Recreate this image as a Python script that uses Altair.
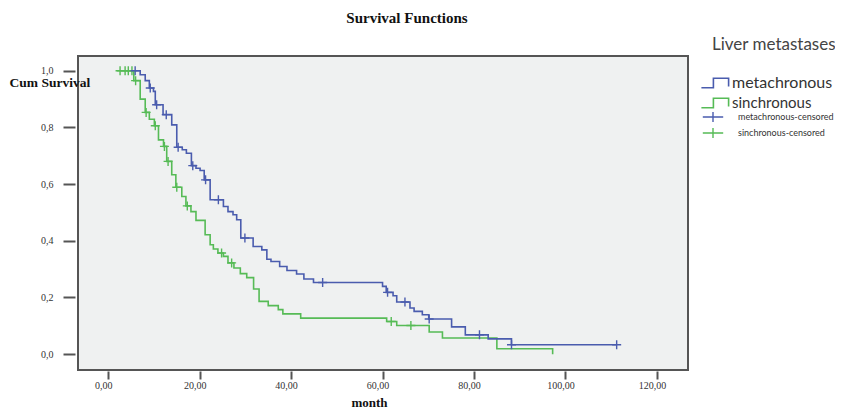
import altair as alt
import pandas as pd

# ---- data (time in months, cumulative survival) ----
meta_t = [5.9, 7.0, 8.1, 9.0, 9.9, 10.3, 12.0, 13.9, 15.0, 16.2, 17.1, 18.2, 19.2, 20.1, 21.0, 22.3,
          25.2, 26.2, 27.3, 28.1, 29.0, 31.7, 33.6, 34.7, 35.6, 37.5, 39.1, 41.2, 42.8, 44.9,
          60.0, 60.8, 62.3, 63.1, 66.0, 66.9, 68.7, 70.1, 75.1, 78.1, 83.1, 88.2, 111.2]
meta_s = [1.0, 0.986, 0.965, 0.939, 0.927, 0.880, 0.845, 0.809, 0.730, 0.721, 0.709, 0.665, 0.656, 0.648, 0.615, 0.545,
          0.521, 0.503, 0.492, 0.474, 0.410, 0.380, 0.368, 0.335, 0.327, 0.309, 0.295, 0.283, 0.265, 0.253,
          0.239, 0.218, 0.206, 0.184, 0.163, 0.151, 0.139, 0.124, 0.096, 0.068, 0.054, 0.033, 0.033]

sin_t = [1.9, 5.6, 7.0, 8.1, 9.0, 10.1, 11.0, 12.1, 12.8, 13.9, 14.8, 16.1, 17.0, 18.1, 19.2, 21.2, 22.3, 23.0,
         24.0, 25.2, 26.2, 27.5, 28.9, 30.3, 31.8, 33.0, 35.0, 37.2, 38.2, 42.1, 60.9, 63.1, 70.2, 73.1, 85.0, 97.2]
sin_s = [1.0, 0.965, 0.900, 0.853, 0.829, 0.806, 0.756, 0.733, 0.680, 0.633, 0.589, 0.556, 0.523, 0.503, 0.472, 0.421, 0.386, 0.371,
         0.357, 0.345, 0.322, 0.304, 0.284, 0.270, 0.230, 0.186, 0.171, 0.157, 0.142, 0.127, 0.115, 0.101, 0.078, 0.057, 0.019, 0.0]

meta_ct = [5.9, 9.2, 10.6, 12.7, 15.3, 18.5, 21.3, 24.1, 29.9, 46.9, 61.1, 64.9, 70.2, 81.2, 88.2, 111.2]
meta_cs = [1.0, 0.939, 0.880, 0.845, 0.730, 0.665, 0.615, 0.545, 0.410, 0.253, 0.218, 0.184, 0.124, 0.068, 0.033, 0.033]

sin_ct = [2.6, 3.7, 4.4, 5.2, 6.0, 8.3, 10.3, 12.3, 13.1, 15.0, 17.3, 24.8, 27.0, 61.9, 66.2]
sin_cs = [1.0, 1.0, 1.0, 1.0, 0.965, 0.853, 0.806, 0.733, 0.680, 0.589, 0.523, 0.357, 0.322, 0.115, 0.101]

groups = ["metachronous", "sinchronous"]
censor_labels = ["metachronous-censored", "sinchronous-censored"]
colors = ["#4a5cae", "#56bb56"]
x_ticks = [0, 20, 40, 60, 80, 100, 120]
y_ticks = [0.0, 0.2, 0.4, 0.6, 0.8, 1.0]

lines_df = pd.concat([
    pd.DataFrame({"t": sin_t, "s": sin_s, "g": groups[1]}),
    pd.DataFrame({"t": meta_t, "s": meta_s, "g": groups[0]}),
])
cens_df = pd.concat([
    pd.DataFrame({"t": sin_ct, "s": sin_cs, "c": censor_labels[1]}),
    pd.DataFrame({"t": meta_ct, "s": meta_cs, "c": censor_labels[0]}),
])

SERIF = "Liberation Serif"
SANS = "Lato"
STEP_PATH = "M-1.7,0.6H-0.2V-0.6H1.7V0.45"
PLUS_PATH = "M-1,0H1M0,-1V1"
PLUS_LEG = "M-1.7,0H1.7M0,-0.85V0.85"

x_enc = alt.X("t:Q",
              scale=alt.Scale(domain=[-6.6, 126.8], nice=False, zero=False),
              axis=alt.Axis(values=x_ticks, grid=False, domain=False, tickSize=8, tickWidth=2,
                            tickColor="#555", offset=1,
                            labelExpr="replace(format(datum.value, '.2f'), '.', ',')",
                            labelFont=SERIF, labelFontSize=10, labelColor="#333", labelPadding=1,
                            labelOffset=-5,
                            title="month", titleFont=SERIF, titleFontSize=13, titleFontWeight="bold",
                            titleColor="#111", titleX=291, titleY=35, titleBaseline="alphabetic",
                            titleAlign="center"))
y_enc = alt.Y("s:Q",
              scale=alt.Scale(domain=[-0.056, 1.052], nice=False, zero=False),
              axis=alt.Axis(values=y_ticks, grid=False, domain=False, tickSize=12, tickWidth=2,
                            tickColor="#555", offset=3,
                            labelExpr="replace(format(datum.value, '.1f'), '.', ',')",
                            labelFont=SERIF, labelFontSize=10, labelColor="#333", labelPadding=10,
                            title="Cum Survival", titleFont=SERIF, titleFontSize=13.5, titleFontWeight="bold",
                            titleColor="#111", titleAngle=0, titleAlign="left", titleBaseline="middle",
                            titleX=-66, titleY=26))

lines = alt.Chart(lines_df).mark_line(interpolate="step-after", strokeWidth=1.6).encode(
    x=x_enc, y=y_enc,
    color=alt.Color("g:N", scale=alt.Scale(domain=groups, range=colors),
                    legend=alt.Legend(title="Liver metastases", orient="none", legendX=634, legendY=-19,
                                      symbolType=STEP_PATH, symbolSize=256, symbolStrokeWidth=1.6,
                                      symbolOffset=-6, labelOffset=8, labelLimit=0,
                                      labelExpr="datum.value == 'sinchronous' ? '\u00a0\u00a0' + datum.label : datum.label",
                                      labelFont=SANS,
                                      labelFontSize=alt.ExprRef(expr="datum.value == 'sinchronous' ? 15 : 16"),
                                      labelColor="#333",
                                      titleFont=SANS, titleFontSize=17, titleFontWeight="normal",
                                      titleColor="#444", titlePadding=20, rowPadding=3)),
)

points = alt.Chart(cens_df).mark_point(shape=PLUS_PATH, size=81, strokeWidth=1.4, filled=False, opacity=1).encode(
    x="t:Q", y="s:Q",
    stroke=alt.Stroke("c:N", scale=alt.Scale(domain=censor_labels, range=colors),
                      legend=alt.Legend(title=None, orient="none", legendX=628, legendY=54,
                                        symbolType=PLUS_LEG, symbolSize=144, symbolStrokeWidth=1.4,
                                        labelOffset=18, labelLimit=0, labelFont=SANS, labelFontSize=9,
                                        labelColor="#333", rowPadding=0)),
)

title_df = pd.DataFrame({"txt": ["Survival Functions"]})
title = alt.Chart(title_df).mark_text(font=SERIF, fontSize=15, fontWeight="bold", color="#111",
                                      align="center", baseline="middle").encode(
    text="txt:N", x=alt.value(329), y=alt.value(-38))

chart = alt.layer(lines, points, title).properties(
    width=610, height=314,
    padding={"left": 70, "top": 48, "right": 147, "bottom": 38},
    autosize=alt.AutoSizeParams(type="none"),
    background="white",
).configure_view(stroke="#555", strokeWidth=2, fill="#eff1f1")

chart.save("out.html", embed_options={"renderer": "svg", "actions": False})
